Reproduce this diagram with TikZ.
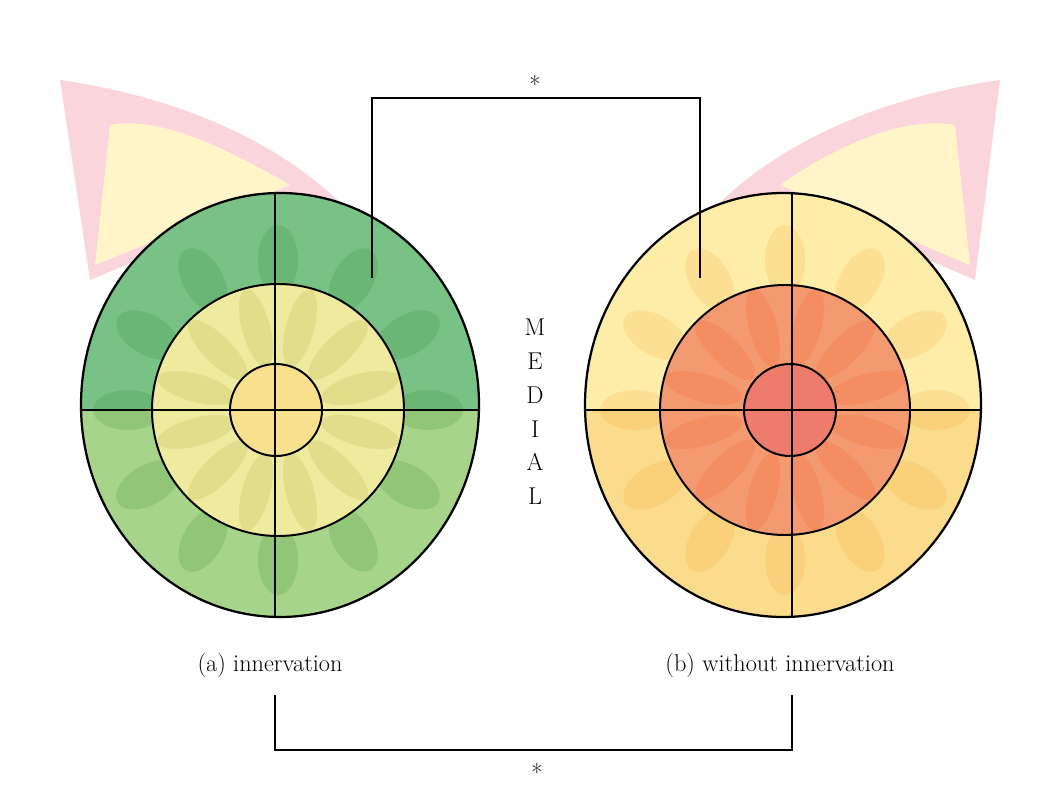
\documentclass[tikz,border=0pt]{standalone}
\usepackage{tikz}
\usepackage{xcolor}
\usetikzlibrary{positioning, shadings}
\definecolor{greenOut}{HTML}{79C285}
\definecolor{greenLow}{HTML}{A6D48A}
\definecolor{yellowMid}{HTML}{EEEA9E}
\definecolor{yellowIn}{HTML}{F9E08E}
\definecolor{paleOut}{HTML}{FADC8C}
\definecolor{paleTop}{HTML}{FDEDA8}
\definecolor{coralMid}{HTML}{F39A70}
\definecolor{coralIn}{HTML}{EE7C6C}
\definecolor{skin}{HTML}{F07A8E}
\definecolor{fat}{HTML}{FFF5C8}

\begin{document}
\begin{tikzpicture}[x=0.025cm, y=-0.025cm,
    % --- Global Settings ---
    every node/.style={font=\rmfamily\LARGE}
  ]

  % --- Style Definitions ---
  \tikzset{
    rim/.style={draw=black, line width=1.6pt},
    divider/.style={draw=black, line width=1.4pt},
    bracket/.style={draw=black, line width=1.3pt},
    petal/.style={opacity=0.12}
  }

  \useasboundingbox (0,0) rectangle (1049,800);

  % --- Tissue behind the discs ---
  \fill[skin!70, opacity=0.45] (60,80) .. controls (200,100) and (320,160) .. (380,250) -- (280,200) -- (90,280) -- cycle;
  \fill[fat] (110,125) .. controls (160,115) and (230,150) .. (290,185) -- (95,265) -- cycle;
  \fill[skin!70, opacity=0.45] (1000,80) .. controls (860,100) and (740,160) .. (680,250) -- (790,200) -- (975,280) -- cycle;
  \fill[fat] (955,125) .. controls (900,115) and (830,150) .. (780,185) -- (970,265) -- cycle;

  % --- Left disc (a) ---
  \begin{scope}
    \clip (280,405) ellipse (199 and 212);
    \fill[greenOut] (60,180) rectangle (500,410);
    \fill[greenLow] (60,410) rectangle (500,630);
    \foreach \a in {0,30,...,330}
      \fill[petal, green!40!black, rotate around={\a:(278,410)}] (278+150,410) ellipse (35 and 20);
  \end{scope}
  \fill[yellowMid] (278,410) circle (126);
  \foreach \a in {15,45,...,345}
    \fill[petal, olive, rotate around={\a:(278,410)}] (278+85,410) ellipse (40 and 14);
  \fill[yellowIn] (276,410) circle (46);
  \draw[rim] (280,405) ellipse (199 and 212);
  \draw[divider] (278,410) circle (126);
  \draw[divider] (276,410) circle (46);
  \draw[divider] (275,193) -- (275,616);
  \draw[divider] (82,410) -- (479,410);

  % --- Right disc (b) ---
  \begin{scope}
    \clip (783,405) ellipse (198 and 212);
    \fill[paleTop] (560,180) rectangle (1000,410);
    \fill[paleOut] (560,410) rectangle (1000,630);
    \foreach \a in {0,30,...,330}
      \fill[petal, orange, rotate around={\a:(785,410)}] (785+150,410) ellipse (35 and 20);
  \end{scope}
  \fill[coralMid] (785,410) circle (125);
  \foreach \a in {15,45,...,345}
    \fill[petal, red!60!orange, rotate around={\a:(785,410)}] (785+85,410) ellipse (40 and 14);
  \fill[coralIn] (790,410) circle (46);
  \draw[rim] (783,405) ellipse (198 and 212);
  \draw[divider] (785,410) circle (125);
  \draw[divider] (790,410) circle (46);
  \draw[divider] (792,193) -- (792,616);
  \draw[divider] (585,410) -- (981,410);

  % --- Brackets and labels ---
  \coordinate (topL) at (372,278);
  \coordinate (topR) at (700,278);
  \draw[bracket] (topL) |- (535,98) -| (topR);
  \node (starTop) at (535,84) {*};
  \coordinate (botL) at (275,695);
  \coordinate (botR) at (792,695);
  \draw[bracket] (botL) |- (535,750) -| (botR);
  \node (starBot) at (537,772) {*};

  \node[align=center] (medial) at (535,412) {M\\[2pt]E\\[2pt]D\\[2pt]I\\[2pt]A\\[2pt]L};
  \node (labA) at (270,665) {(a) innervation};
  \node (labB) at (780,665) {(b) without innervation};

\end{tikzpicture}
\end{document}
